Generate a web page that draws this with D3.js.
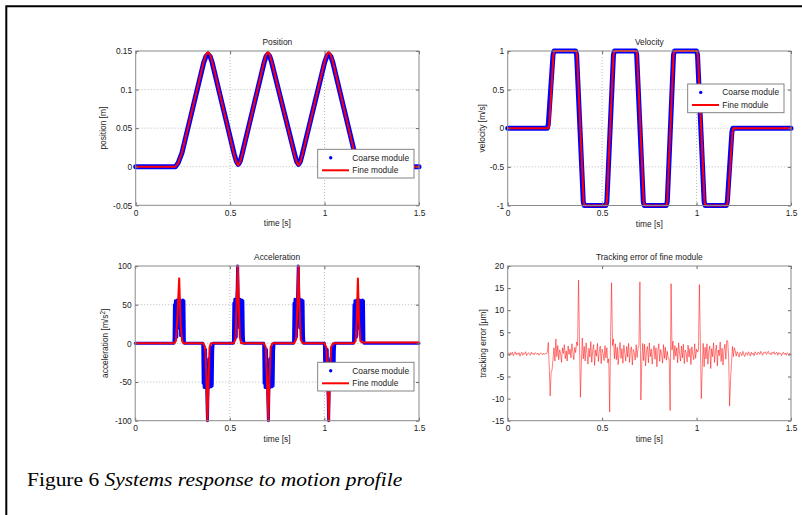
<!DOCTYPE html>
<html><head><meta charset="utf-8">
<script src="https://cdn.jsdelivr.net/npm/d3@7"></script>
<style>body{margin:0;background:#fff}svg{display:block}</style>
</head><body><svg id="c" width="802" height="515"></svg>
<script>
// ---------------- DATA ----------------
const timeTicks = [0, 0.5, 1, 1.5];
const timeTickLabels = ["0", "0.5", "1", "1.5"];

const posTicks = [-0.05, 0, 0.05, 0.1, 0.15];
const posTickLabels = ["-0.05", "0", "0.05", "0.1", "0.15"];
const velTicks = [-1, -0.5, 0, 0.5, 1];
const velTickLabels = ["-1", "-0.5", "0", "0.5", "1"];
const accTicks = [-100, -50, 0, 50, 100];
const accTickLabels = ["-100", "-50", "0", "50", "100"];
const errTicks = [-15, -10, -5, 0, 5, 10, 15, 20];
const errTickLabels = ["-15", "-10", "-5", "0", "5", "10", "15", "20"];

const legendLabels = ["Coarse module", "Fine module"];

// Position [m]
const posT = [0, 0.21, 0.225, 0.245, 0.36, 0.372, 0.383, 0.394, 0.405, 0.522, 0.533, 0.543, 0.553, 0.563, 0.68, 0.69, 0.70, 0.71, 0.72, 0.842, 0.852, 0.862, 0.872, 0.882, 1.0, 1.012, 1.022, 1.033, 1.044, 1.16, 1.175, 1.19, 1.5];
const posCoarse = [0, 0, 0.005, 0.018, 0.135, 0.143, 0.146, 0.143, 0.135, 0.016, 0.007, 0.003, 0.007, 0.016, 0.135, 0.143, 0.146, 0.143, 0.135, 0.016, 0.007, 0.003, 0.007, 0.016, 0.135, 0.143, 0.146, 0.143, 0.135, 0.017, 0.005, 0, 0];
const posFine   = [0, 0, 0.005, 0.018, 0.136, 0.145, 0.149, 0.145, 0.136, 0.015, 0.006, 0.002, 0.006, 0.015, 0.136, 0.145, 0.149, 0.145, 0.136, 0.015, 0.006, 0.002, 0.006, 0.015, 0.136, 0.145, 0.149, 0.145, 0.136, 0.016, 0.004, 0, 0];

// Velocity [m/s]
const velT = [0, 0.21, 0.215, 0.24, 0.245, 0.36, 0.365, 0.40, 0.405, 0.52, 0.525, 0.56, 0.565, 0.678, 0.683, 0.718, 0.723, 0.84, 0.845, 0.878, 0.883, 1.0, 1.005, 1.04, 1.045, 1.158, 1.163, 1.187, 1.192, 1.5];
const velCoarse = [0, 0, 0.05, 0.95, 1, 1, 0.95, -0.95, -1, -1, -0.95, 0.95, 1, 1, 0.95, -0.95, -1, -1, -0.95, 0.95, 1, 1, 0.95, -0.95, -1, -1, -0.95, -0.05, 0, 0];
const velFineT = [0, 0.215, 0.22, 0.242, 0.247, 0.362, 0.367, 0.402, 0.407, 0.52, 0.525, 0.56, 0.565, 0.68, 0.685, 0.72, 0.725, 0.84, 0.845, 0.878, 0.883, 1.002, 1.007, 1.042, 1.047, 1.16, 1.165, 1.19, 1.195, 1.5];
const velFine = [0, 0, 0.05, 0.95, 1, 1, 0.95, -0.95, -1, -1, -0.95, 0.95, 1, 1, 0.95, -0.95, -1, -1, -0.95, 0.95, 1, 1, 0.95, -0.95, -1, -1, -0.95, -0.05, 0, 0];

// Acceleration [m/s^2] - coarse module: pulses sampled every accStep from each start time
const accStep = 0.0025;
const accCoarseStart = [0.205, 0.357, 0.519, 0.679, 0.837, 1.0, 1.154];
const accCoarseVals = [
  [0, 50, 12, 55, 30, 54, 8, 56, 40, 55, 20, 53, 45, 56, 10, 55, 35, 54, 5, 56, 25, 55, 0],
  [0, -52, -10, -57, -30, -55, -8, -56, -45, -75, -100, -60, -55, -20, -57, -35, -54, -5, -56, -25, -55, -10, 0],
  [0, 52, 10, 57, 30, 55, 8, 56, 70, 100, 60, 45, 55, 20, 57, 35, 54, 5, 56, 25, 55, 10, 0],
  [0, -52, -10, -57, -30, -55, -8, -56, -45, -75, -100, -60, -55, -20, -57, -35, -54, -5, -56, -25, -55, -10, 0],
  [0, 52, 10, 57, 30, 55, 8, 56, 45, 75, 100, 60, 55, 20, 57, 35, 54, 5, 56, 25, 55, 10, 0],
  [0, -50, -10, -55, -30, -54, -8, -55, -70, -100, -60, -45, -55, -20, -56, -35, -54, -5, -55, -25, -54, -10, 0],
  [0, 50, 12, 55, 30, 54, 8, 56, 40, 55, 20, 53, 45, 56, 10, 55, 35, 54, 5, 56, 25, 55, 0]
];
// Acceleration - fine module
const accFineT = [0, 0.205, 0.215, 0.222, 0.2325, 0.24, 0.248, 0.255, 0.36, 0.37, 0.376, 0.382, 0.387, 0.393, 0.40, 0.52, 0.53, 0.536, 0.542, 0.547, 0.553, 0.56, 0.68, 0.69, 0.697, 0.704, 0.709, 0.716, 0.725, 0.84, 0.85, 0.857, 0.863, 0.868, 0.875, 0.885, 1.0, 1.01, 1.017, 1.023, 1.028, 1.035, 1.045, 1.155, 1.165, 1.171, 1.177, 1.183, 1.19, 1.2, 1.5];
const accFine  = [0, 0, 3, 30, 84, 25, 3, 0, 0, -5, -40, -100, -55, -5, 0, 0, 5, 50, 100, 55, 8, 0, 0, -5, -50, -100, -50, -5, 0, 0, 5, 50, 100, 50, 5, 0, 0, -5, -50, -100, -50, -5, 0, 0, 3, 30, 84, 30, 3, 1, 1];

// Tracking error of fine module [um], sampled every errStep
const errStep = 0.005;
const trackErr = [
  0.1, 0.3, -0.2, 0.4, 0.0, 0.5, -0.3, 0.2, 0.6, -0.1, 0.3, 0.0, 0.4, -0.4, 0.2, 0.5, -0.2, 0.3, 0.1, 0.6, -0.3, 0.2, 0.4, 0.0, -0.2, 0.5, 0.1, 0.3, -0.1, 0.4, 0.2, 0.0, 0.3, -0.2, 0.1, 0.4, 0.2, -0.1, 0.3, 0.0, 0.2, 0.1,
  0.5, 2.7, -3.0, -9.4, -4.0, -3.5, -1.0, 1.5, -1.5, 3.5,
  -0.5, 2.0, -1.2, 1.0, 0.3, -1.8, 1.5, 0.2, 2.2, -1.0, 0.8, -1.5, 1.9, 0.0, 1.2, -0.8, 2.4, 0.5, -1.2, 1.6, 0.4, 2.8,
  2.0, 16.8, 3.0, -9.7, -2.0, 3.7, -1.0,
  1.8, -1.5, 2.6, 0.2, -2.2, 1.4, -0.6, 2.9, -1.8, 0.9, 2.2, -2.5, 1.0, -0.4, 2.5, -1.6, 0.7, 1.9, -2.1, 1.2, 0.3, -1.4, 2.0, -0.8, 1.5, -1.9,
  -1.0, -13.0, 5.0, 16.2, 2.0, 3.5, -1.0,
  2.4, -1.2, 1.6, -2.3, 0.8, 2.7, -0.9, 1.3, -2.0, 2.1, 0.2, -1.5, 1.8, -0.6, 2.5, -1.8, 0.9, 1.7, -2.4, 1.1, 0.4, -1.3, 2.2, -0.7, 1.4,
  2.0, 16.4, -10.3, -2.0, 2.5,
  -1.4, 2.3, -2.6, 0.9, 1.8, -1.9, 2.6, -0.5, 1.2, -2.2, 0.6, 2.0, -1.1, 1.5, -2.8, 0.8, 2.4, -1.6, 1.1, 0.0, -2.0, 2.2, -0.9, 1.6, -1.3, 0.7, -1.0,
  -1.0, -12.7, 16.0, 1.0, 3.0,
  -1.2, 2.0, -0.4, 1.5, -1.9, 2.6, 0.3, -1.5, 1.9, -0.8, 2.3, -2.1, 1.0, 0.4, -1.7, 2.1, -0.6, 1.3, -2.3, 1.7, 0.1, -1.2, 2.4, -0.9, 1.2, 0.5,
  1.0, 15.8, 3.0, -10.0, -3.0, 2.5,
  -2.8, 1.6, -1.0, 2.4, -2.2, 0.8, 1.9, -3.2, 1.3, -0.5, 2.6, -1.8, 0.7, 2.1, -2.6, 1.0, -0.3, 2.8, -1.6, 1.4, -2.4, 0.9, 2.3, -1.1, 3.2,
  3.0, -1.0, -11.7, -5.5, -2.0, 1.8, -0.5, 1.5,
  0.8, -0.4, 0.6, 0.1, -0.6, 0.5, 0.2, -0.3, 0.7, 0.0, -0.5, 0.4, 0.3, -0.2, 0.6, 0.1, -0.4, 0.5, 0.0, 0.3, -0.3, 0.6, 0.2, -0.1, 0.5, 0.4, 0.0, 0.7, 0.2, -0.2, 0.5, 0.3, 0.6, 0.0, 0.4, 0.7, 0.1, 0.3, -0.1, 0.5, 0.2, 0.6, 0.0, 0.3, 0.5, -0.2, 0.4, 0.1, 0.3, -0.3, 0.2, 0.5, 0.0, 0.3, -0.2, 0.4, 0.1, -0.1, 0.3, 0.0
];

// ---------------- DRAWING ----------------
const W = 802, H = 515;
const svg = d3.select("#c");
svg.append("rect").attr("width", W).attr("height", H).attr("fill", "#fff");
svg.append("path").attr("d", "M6.3,515V6.3H802").attr("fill", "none")
  .attr("stroke", "#000").attr("stroke-width", 2);

const FONT = "'Liberation Sans', Arial, Helvetica, sans-serif";
const FS = 8.4;
const BLUE = "#0000ff", RED = "#ff0000";

function panel(cfg) {
  const g = svg.append("g").attr("font-family", FONT).attr("font-size", FS).attr("fill", "#222");
  const x = d3.scaleLinear().domain([0, 1.5]).range([cfg.left, cfg.left + cfg.w]);
  const y = d3.scaleLinear().domain(cfg.ydom).range([cfg.top + cfg.h, cfg.top]);
  if (cfg.grid) {
    const gg = g.append("g").attr("stroke", "#a8a8a8").attr("stroke-width", 0.8).attr("stroke-dasharray", "1,2");
    timeTicks.filter(t => t > 0 && t < 1.5).forEach(t => {
      gg.append("line").attr("x1", x(t)).attr("x2", x(t)).attr("y1", cfg.top).attr("y2", cfg.top + cfg.h);
    });
    cfg.yticks.slice(1, -1).forEach(v => {
      gg.append("line").attr("x1", cfg.left).attr("x2", cfg.left + cfg.w).attr("y1", y(v)).attr("y2", y(v));
    });
  }
  const plot = g.append("g");
  const axCol = "#666";
  const ax = (sel) => { sel.select(".domain").remove(); sel.selectAll("line").attr("stroke", axCol); sel.selectAll("text").attr("fill", "#222").attr("font-family", FONT).attr("font-size", FS); };
  const yl = g.append("g").attr("transform", `translate(${cfg.left},0)`)
    .call(d3.axisLeft(y).tickValues(cfg.yticks).tickSize(-3).tickPadding(3.5).tickFormat((d, i) => cfg.ylabels[i]));
  ax(yl);
  const yr = g.append("g").attr("transform", `translate(${cfg.left + cfg.w},0)`)
    .call(d3.axisRight(y).tickValues(cfg.yticks).tickSize(-3).tickFormat(""));
  ax(yr);
  const xb = g.append("g").attr("transform", `translate(0,${cfg.top + cfg.h})`)
    .call(d3.axisBottom(x).tickValues(timeTicks).tickSize(-3).tickPadding(4.5).tickFormat((d, i) => timeTickLabels[i]));
  ax(xb);
  const xt = g.append("g").attr("transform", `translate(0,${cfg.top})`)
    .call(d3.axisTop(x).tickValues(timeTicks).tickSize(-3).tickFormat(""));
  ax(xt);
  g.append("rect").attr("x", cfg.left).attr("y", cfg.top).attr("width", cfg.w).attr("height", cfg.h)
    .attr("fill", "none").attr("stroke", "#8a8a8a").attr("stroke-width", 1);
  g.append("text").attr("x", cfg.left + cfg.w / 2).attr("y", cfg.top - 6.5).attr("text-anchor", "middle").text(cfg.title);
  g.append("text").attr("x", cfg.left + cfg.w / 2).attr("y", cfg.top + cfg.h + 21).attr("text-anchor", "middle").text("time [s]");
  const yt = g.append("text").attr("text-anchor", "middle")
    .attr("transform", `translate(${cfg.left - cfg.ylabOff + 3},${cfg.top + cfg.h / 2}) rotate(-90)`);
  cfg.ylab(yt);
  return { g, plot, x, y };
}

function legend(p, lx, ly) {
  const lw = 96.3, lh = 28.7;
  const lg = p.g.append("g");
  lg.append("rect").attr("x", lx).attr("y", ly).attr("width", lw).attr("height", lh)
    .attr("fill", "#fff").attr("stroke", "#777").attr("stroke-width", 0.9);
  lg.append("circle").attr("cx", lx + 13).attr("cy", ly + 8.4).attr("r", 1.7).attr("fill", BLUE);
  lg.append("text").attr("x", lx + 34.6).attr("y", ly + 11.4).text(legendLabels[0]);
  lg.append("line").attr("x1", lx + 4.3).attr("x2", lx + 31.3).attr("y1", ly + 21).attr("y2", ly + 21)
    .attr("stroke", RED).attr("stroke-width", 2);
  lg.append("text").attr("x", lx + 34.6).attr("y", ly + 24.1).text(legendLabels[1]);
}

function drawLine(p, pts, color, width, opacity) {
  const line = d3.line().x(d => p.x(d[0])).y(d => p.y(d[1]));
  p.plot.append("path").attr("d", line(pts)).attr("fill", "none").attr("stroke", color)
    .attr("stroke-width", width).attr("stroke-linejoin", "round").attr("stroke-linecap", "round")
    .attr("stroke-opacity", opacity == null ? 1 : opacity);
}

// Panel 1: Position
const p1 = panel({ left: 135.7, top: 51, w: 283.3, h: 154.3, ydom: [-0.05, 0.15], yticks: posTicks, ylabels: posTickLabels,
  grid: true, title: "Position", ylabOff: 32.4, ylab: t => t.text("position [m]") });
drawLine(p1, posT.map((t, i) => [t, posCoarse[i]]), BLUE, 5);
drawLine(p1, posT.map((t, i) => [t, posFine[i]]), RED, 2);
legend(p1, 317.7, 149.3);

// Panel 2: Velocity
const p2 = panel({ left: 507.7, top: 51, w: 283.3, h: 154.5, ydom: [-1, 1], yticks: velTicks, ylabels: velTickLabels,
  grid: true, title: "Velocity", ylabOff: 26, ylab: t => t.text("velocity [m/s]") });
drawLine(p2, velT.map((t, i) => [t, velCoarse[i]]), BLUE, 5);
drawLine(p2, velFineT.map((t, i) => [t, velFine[i]]), RED, 2);
legend(p2, 687.7, 84);

// Panel 3: Acceleration
const p3 = panel({ left: 135.2, top: 266, w: 283.8, h: 154.7, ydom: [-100, 100], yticks: accTicks, ylabels: accTickLabels,
  grid: true, title: "Acceleration", ylabOff: 30, ylab: t => {
    t.append("tspan").text("acceleration [m/s");
    t.append("tspan").attr("font-size", FS * 0.75).attr("dy", -3.5).text("2");
    t.append("tspan").attr("dy", 3.5).text("]");
  } });
const accPts = [[0, 0]];
accCoarseStart.forEach((t0, k) => {
  accCoarseVals[k].forEach((v, j) => accPts.push([t0 + j * accStep, v]));
});
accPts.push([1.5, 0]);
drawLine(p3, accPts, BLUE, 3);
drawLine(p3, accFineT.map((t, i) => [t, accFine[i]]), RED, 2);
legend(p3, 317.7, 362.3);

// Panel 4: Tracking error
const p4 = panel({ left: 507.7, top: 266, w: 283.3, h: 154.7, ydom: [-15, 20], yticks: errTicks, ylabels: errTickLabels,
  grid: false, title: "Tracking error of fine module", ylabOff: 24.4, ylab: t => t.text("tracking error [\u03bcm]") });
drawLine(p4, trackErr.map((v, i) => [i * errStep, v]), RED, 0.6, 0.85);

// Caption (slightly stretched horizontally, as in the reference scan)
const cap = svg.append("text").attr("transform", "translate(27,486) scale(1.13,1)")
  .attr("font-family", "'Liberation Serif', 'Times New Roman', serif")
  .attr("font-size", 19).attr("fill", "#000");
cap.append("tspan").text("Figure 6 ");
cap.append("tspan").attr("font-style", "italic").text("Systems response to motion profile");
</script>
</body></html>
